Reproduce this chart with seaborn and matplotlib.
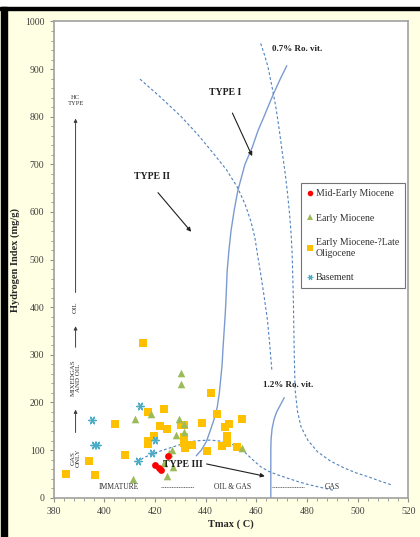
import numpy as np
import pandas as pd
import matplotlib
matplotlib.use("Agg")
import matplotlib.pyplot as plt
from matplotlib.ticker import MultipleLocator
from matplotlib.lines import Line2D
import seaborn as sns

# --- sample data (Tmax, HI) ---
mid_early_tmax = [420.0, 421.5, 422.5, 425.3]
mid_early_hi = [68, 63, 59, 88]

early_tmax = [411.5, 412.1, 418.6, 423.4, 424.6, 425.4, 426.7, 427.3, 428.4, 429.6,
              430.4, 430.4, 431.3, 431.5, 454.5]
early_hi = [39, 165, 175, 73, 46, 93, 100, 65, 132, 166, 261, 238, 138, 155, 104]

olig_tmax = [385.0, 394.0, 396.2, 404.2, 408.2, 415.2, 417.3, 417.3, 417.4, 419.6,
             422.1, 423.4, 424.6, 430.2, 431.6, 431.3, 431.3, 432.0, 434.6, 438.6,
             440.5, 442.0, 444.6, 446.5, 447.6, 448.5, 448.5, 449.4, 452.5, 454.5]
olig_hi = [50, 77, 48, 154, 90, 325, 180, 120, 112, 129,
           150, 186, 145, 152, 152, 128, 114, 104, 110, 157,
           97, 220, 175, 108, 148, 114, 129, 154, 106, 166]

base_tmax = [395.0, 396.0, 397.3, 413.2, 414.1, 419.0, 420.1]
base_hi = [164, 110, 110, 78, 192, 94, 122]

# --- kerogen type / maturity curves ---
type1_tmax = [436.3, 438.3, 440.3, 441.9, 443.4, 444.6, 445.4, 445.9, 446.5, 446.8,
              447.3, 447.7, 448.0, 448.5, 449.2, 450.0, 451.3, 452.7, 455.5, 458.4,
              460.6, 463.0, 465.0, 467.0, 469.5, 472.0]
type1_hi = [88, 100, 118, 142, 166, 191, 220, 247, 280, 310,
            351, 383, 414, 477, 520, 560, 605, 645, 700, 736,
            770, 800, 826, 851, 880, 907]

type2_tmax = [414.1, 422.0, 430.0, 437.0, 443.2, 448.3, 452.5, 455.5, 457.8, 459.4,
              460.4, 461.5, 463.0, 464.4, 465.3, 466.1]
type2_hi = [879, 842, 802, 762, 722, 688, 652, 617, 581, 547,
            512, 477, 425, 372, 320, 268]

type3_tmax = [412.8, 416.0, 419.4, 423.3, 427.3, 430.8, 434.0, 438.0, 441.9, 445.5,
              449.8, 452.5, 455.1, 458.3, 461.7, 465.0, 468.4, 472.3, 476.3, 480.2,
              484.2, 487.5, 490.8]
type3_hi = [75, 85, 93, 100, 107, 113, 118, 120, 121, 119,
            114, 106, 97, 81, 65, 55, 48, 41, 34, 28,
            23, 19, 15]

ro07_tmax = [461.7, 463.2, 464.6, 466.2, 467.7, 469.1, 470.3, 471.4, 472.3, 473.1,
             473.7, 474.1, 474.3, 474.6, 474.8, 475.0, 475.3, 476.2, 477.6, 480.4,
             484.2, 489.2, 494.8, 499.4, 504.1, 508.7, 513.3]
ro07_hi = [954, 930, 904, 862, 820, 770, 722, 680, 638, 596,
           554, 515, 477, 413, 350, 288, 226, 182, 149, 120,
           96, 77, 62, 52, 44, 35, 27]

ro12_tmax = [465.7, 465.7, 465.8, 466.2, 467.0, 468.0, 469.5, 471.0]
ro12_hi = [0, 100, 122, 145, 165, 180, 195, 210]

data = pd.concat([
    pd.DataFrame({"Tmax": mid_early_tmax, "HI": mid_early_hi, "group": "Mid-Early Miocene"}),
    pd.DataFrame({"Tmax": early_tmax, "HI": early_hi, "group": "Early Miocene"}),
    pd.DataFrame({"Tmax": olig_tmax, "HI": olig_hi, "group": "Early Miocene-?Late\nOligocene"}),
    pd.DataFrame({"Tmax": base_tmax, "HI": base_hi, "group": "Basement"}),
])

sns.set_style("white")
plt.rcParams['font.family'] = ['Liberation Serif', 'DejaVu Serif']

bg = "#FFFFE3"
fig = plt.figure(figsize=(4.2, 5.37), dpi=100, facecolor=bg)
ax = fig.add_axes([0.1274, 0.0732, 0.8452, 0.8868])
ax.set_facecolor("white")

solid_c = "#7B9BD0"
dash_c = "#4F81BD"
ax.plot(type1_tmax, type1_hi, color=solid_c, lw=1.0, zorder=2)
ax.plot(ro12_tmax, ro12_hi, color=solid_c, lw=1.0, zorder=2)
ax.plot(type2_tmax, type2_hi, color=dash_c, lw=0.8, ls=(0, (2.5, 2)), zorder=2)
ax.plot(type3_tmax, type3_hi, color=dash_c, lw=0.8, ls=(0, (2.5, 2)), zorder=2)
ax.plot(ro07_tmax, ro07_hi, color=dash_c, lw=0.8, ls=(0, (2.5, 2)), zorder=2)

styles = {
    "Mid-Early Miocene": dict(color="#FF0000", marker="o", s=24),
    "Early Miocene": dict(color="#9BBB59", marker="^", s=30),
    "Early Miocene-?Late\nOligocene": dict(color="#FFC000", marker="s", s=26),
    "Basement": dict(color="#4BACC6", marker=(6, 2, 90), s=28),
}
order = ["Early Miocene-?Late\nOligocene", "Early Miocene", "Basement", "Mid-Early Miocene"]
for g in order:
    st = styles[g]
    sub = data[data["group"] == g]
    lw = 1.0 if g == "Basement" else 0
    sns.scatterplot(data=sub, x="Tmax", y="HI", ax=ax, color=st["color"], marker=st["marker"],
                    s=st["s"], linewidth=lw, edgecolor=st["color"], zorder=3, legend=False)

ax.set_xlim(380, 520)
ax.set_ylim(0, 1000)
ax.xaxis.set_major_locator(MultipleLocator(20))
ax.xaxis.set_minor_locator(MultipleLocator(4))
ax.yaxis.set_major_locator(MultipleLocator(100))
ax.yaxis.set_minor_locator(MultipleLocator(20))
ax.tick_params(which="both", direction="out", colors="#909090", labelcolor="#404040",
               labelsize=7, bottom=True, left=True)
ax.tick_params(which="major", length=3, width=0.8)
ax.tick_params(which="minor", length=2, width=0.6)
for side in ["left", "bottom", "top", "right"]:
    ax.spines[side].set_color("#A0A0A0")
    ax.spines[side].set_linewidth(1.2)

ax.set_xlabel("Tmax ( C)", fontsize=7.5, fontweight="bold", labelpad=3)
ax.set_ylabel("Hydrogen Index (mg/g)", fontsize=7.5, fontweight="bold")
ax.yaxis.set_label_coords(-0.094, 0.5)

# type labels and arrows
bold = dict(fontsize=7, fontweight="bold", color="#202020")
ax.text(418.8, 674, "TYPE II", ha="center", va="center", **bold)
ax.annotate("", xy=(435, 554), xytext=(420.5, 645),
            arrowprops=dict(arrowstyle="-|>", color="#202020", lw=0.8, mutation_scale=6))
ax.text(447.5, 850, "TYPE I", ha="center", va="center", **bold)
ax.annotate("", xy=(458.8, 712), xytext=(450.1, 813),
            arrowprops=dict(arrowstyle="-|>", color="#202020", lw=0.8, mutation_scale=6))
ax.text(431, 70, "TYPE III", ha="center", va="center", **bold)
ax.annotate("", xy=(464.4, 44), xytext=(439.3, 72),
            arrowprops=dict(arrowstyle="-|>", color="#202020", lw=0.8, mutation_scale=6))
ax.text(466.2, 942, "0.7% Ro. vit.", ha="left", va="center", fontsize=6.5, fontweight="bold",
        color="#202020")
ax.text(472.5, 236, "1.2% Ro. vit.", ha="center", va="center", fontsize=6.5, fontweight="bold",
        color="#202020")

# maturity zones
small = dict(fontsize=5.5, color="#303030", ha="center", va="center")
ax.text(405.9, 23, "IMMATURE", **small)
ax.text(450.5, 23, "OIL & GAS", **small)
ax.text(489.8, 23, "GAS", **small)
ax.plot([422.5, 435.3], [22, 22], color="#303030", lw=0.5, ls=(0, (1.5, 1)))
ax.plot([466.3, 478.9], [22, 22], color="#303030", lw=0.5, ls=(0, (1.5, 1)))

# HC type column
hx = 388.7
ax.text(hx, 834, "HC\nTYPE", fontsize=4.8, color="#303030", ha="center", va="center",
        linespacing=1.1)
ax.annotate("", xy=(hx, 802), xytext=(hx, 425),
            arrowprops=dict(arrowstyle="-|>", color="#404040", lw=0.7, mutation_scale=5))
ax.text(hx, 400, "OIL", fontsize=5, color="#303030", ha="center", va="center", rotation=90)
ax.annotate("", xy=(hx, 366), xytext=(hx, 310),
            arrowprops=dict(arrowstyle="-|>", color="#404040", lw=0.7, mutation_scale=5))
ax.text(hx, 251, "MIXEDGAS\nAND OIL", fontsize=5, color="#303030", ha="center", va="center",
        rotation=90, linespacing=1.1)
ax.annotate("", xy=(hx, 191), xytext=(hx, 131),
            arrowprops=dict(arrowstyle="-|>", color="#404040", lw=0.7, mutation_scale=5))
ax.text(hx, 83, "GAS\nONLY", fontsize=5, color="#303030", ha="center", va="center",
        rotation=90, linespacing=1.1)

# legend
leg_order = ["Mid-Early Miocene", "Early Miocene", "Early Miocene-?Late\nOligocene", "Basement"]
handles = []
for g in leg_order:
    st = styles[g]
    handles.append(Line2D([], [], ls="", marker=st["marker"], color=st["color"],
                          markersize=4, markeredgewidth=0.8 if g == "Basement" else 0))
leg = ax.legend(handles, leg_order, loc="upper left", bbox_to_anchor=(0.697, 0.66),
                frameon=True, fancybox=False, fontsize=7, labelspacing=1.6,
                handlelength=0.6, handletextpad=0.3, borderpad=0.6, borderaxespad=0)
leg.get_frame().set_edgecolor("#505050")
leg.get_frame().set_linewidth(0.8)
for t in leg.get_texts():
    t.set_color("#303030")

# outer screenshot frame (black edges top and left)
fig.patches.append(plt.Rectangle((0, 1 - 9.5 / 537), 1, 2.5 / 537, transform=fig.transFigure,
                                 color="black", zorder=10))
fig.patches.append(plt.Rectangle((1 / 420, 0), 6 / 420, 1 - 7 / 537, transform=fig.transFigure,
                                 color="black", zorder=10))
fig.patches.append(plt.Rectangle((0, 1 - 7 / 537), 1, 7 / 537, transform=fig.transFigure,
                                 color="white", zorder=9))

fig.savefig("out.png", dpi=100, facecolor=bg)
